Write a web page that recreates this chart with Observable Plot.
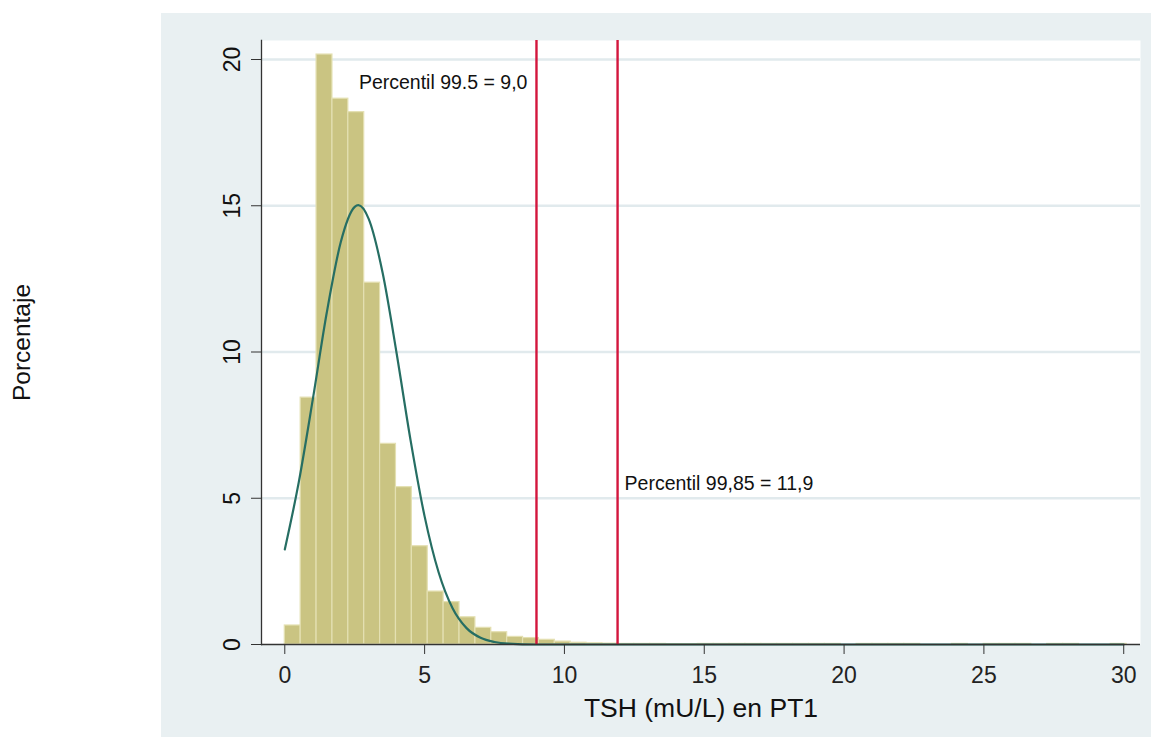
<!DOCTYPE html>
<html>
<head>
<meta charset="utf-8">
<script src="https://cdn.jsdelivr.net/npm/d3@7"></script>
<script src="https://cdn.jsdelivr.net/npm/@observablehq/plot@0.6"></script>
<style>
  body { margin: 0; background: #ffffff; }
  #chart { position: relative; width: 1151px; height: 737px; font-family: "Liberation Sans", Arial, sans-serif; }
  #panel { position: absolute; left: 161px; top: 13px; width: 990px; height: 724px; background: #e9f0f2; }
  #chart svg { position: absolute; left: 0; top: 0; }
</style>
</head>
<body>
<div id="chart"><div id="panel"></div></div>
<script>
// Histogram of TSH (mU/L), percent of observations per bin
const binWidth = 0.568;
const binPercent = [
  0.65, 8.44, 20.17, 18.66, 18.20, 12.37, 6.86, 5.38, 3.36, 1.81,
  1.45, 0.93, 0.57, 0.42, 0.26, 0.22, 0.16, 0.10, 0.06, 0.04,
  0.03, 0.02, 0.02, 0.02, 0.01, 0.01, 0.02, 0.02, 0.02, 0.02,
  0.02, 0.02, 0.02, 0.02, 0.02, 0, 0.02, 0.02, 0.02, 0.02,
  0, 0, 0.02, 0, 0.02, 0.02, 0.02, 0, 0.02, 0.02,
  0, 0, 0.02
];

// Overlaid normal curve, sampled along x
const curveX = [0, 0.5, 1, 1.5, 2, 2.5, 2.63, 3, 3.5, 4, 4.5, 5, 5.5, 6, 6.5, 7, 7.5, 8, 9, 12, 16, 20, 25, 30];
const curveY = [3.25, 5.55, 8.37, 11.34, 13.75, 14.96, 15.02, 14.55, 12.7, 9.95, 6.97, 4.38, 2.47, 1.24, 0.56, 0.23, 0.087, 0.03, 0, 0, 0, 0, 0, 0];

// Percentile reference lines
const percentileValues = [9.0, 11.9];
const percentileLabels = ["Percentil 99.5 = 9,0", "Percentil 99,85 = 11,9"];

const xTicks = [0, 5, 10, 15, 20, 25, 30];
const yTicks = [0, 5, 10, 15, 20];

const bins = binPercent
  .map((p, i) => ({x1: i * binWidth, x2: (i + 1) * binWidth, percent: p}))
  .filter(d => d.percent > 0);
const curve = curveX.map((x, i) => ({x, y: curveY[i]}));
const refs = percentileValues.map((v, i) => ({value: v, label: percentileLabels[i]}));

const font = "Liberation Sans, Arial, sans-serif";

const chart = Plot.plot({
  width: 1151,
  height: 737,
  marginLeft: 261,
  marginRight: 11,
  marginTop: 40,
  marginBottom: 93,
  style: {background: "transparent", color: "#222", fontFamily: font, overflow: "visible"},
  x: {domain: [-0.833, 30.6]},
  y: {domain: [0, 20.65]},
  marks: [
    Plot.frame({fill: "#ffffff", stroke: null}),
    Plot.gridY({ticks: [5, 10, 15, 20], stroke: "#e1eaed", strokeOpacity: 1, strokeWidth: 2.5}),
    Plot.rectY(bins, {x1: "x1", x2: "x2", y: "percent", fill: "#cac482", stroke: "#e4e0b2", strokeWidth: 1.2}),
    Plot.line(curve, {x: "x", y: "y", curve: "monotone-x", stroke: "#266e63", strokeWidth: 2.2}),
    Plot.ruleX(refs, {x: "value", stroke: "#d3163d", strokeWidth: 2.4}),
    Plot.text(refs.slice(0, 1), {x: "value", y: () => 19.2, text: "label", textAnchor: "end", dx: -9, fontSize: 19.5, fill: "#111"}),
    Plot.text(refs.slice(1, 2), {x: "value", y: () => 5.5, text: "label", textAnchor: "start", dx: 7, fontSize: 19.5, fill: "#111"}),
    Plot.ruleY([0], {stroke: "#333", strokeWidth: 1.3}),
    Plot.frame({anchor: "left", stroke: "#333", strokeWidth: 1.3}),
    Plot.axisX({ticks: xTicks, tickSize: 10, tickPadding: 12, fontSize: 23, label: null, stroke: "#333"}),
    Plot.axisY({ticks: yTicks, tickSize: 10, tickFormat: () => "", label: null, stroke: "#333"}),
    Plot.text(yTicks, {y: d => d, text: d => String(d), frameAnchor: "left", textAnchor: "middle", dx: -29, rotate: -90, fontSize: 23, fill: "#111"}),
    Plot.text(["Porcentaje"], {frameAnchor: "left", textAnchor: "middle", dx: -239, rotate: -90, fontSize: 24.5, fill: "#111"}),
    Plot.text(["TSH (mU/L) en PT1"], {frameAnchor: "bottom", textAnchor: "middle", dy: 72, fontSize: 26.5, fill: "#111"})
  ]
});

document.getElementById("chart").appendChild(chart);
</script>
</body>
</html>
